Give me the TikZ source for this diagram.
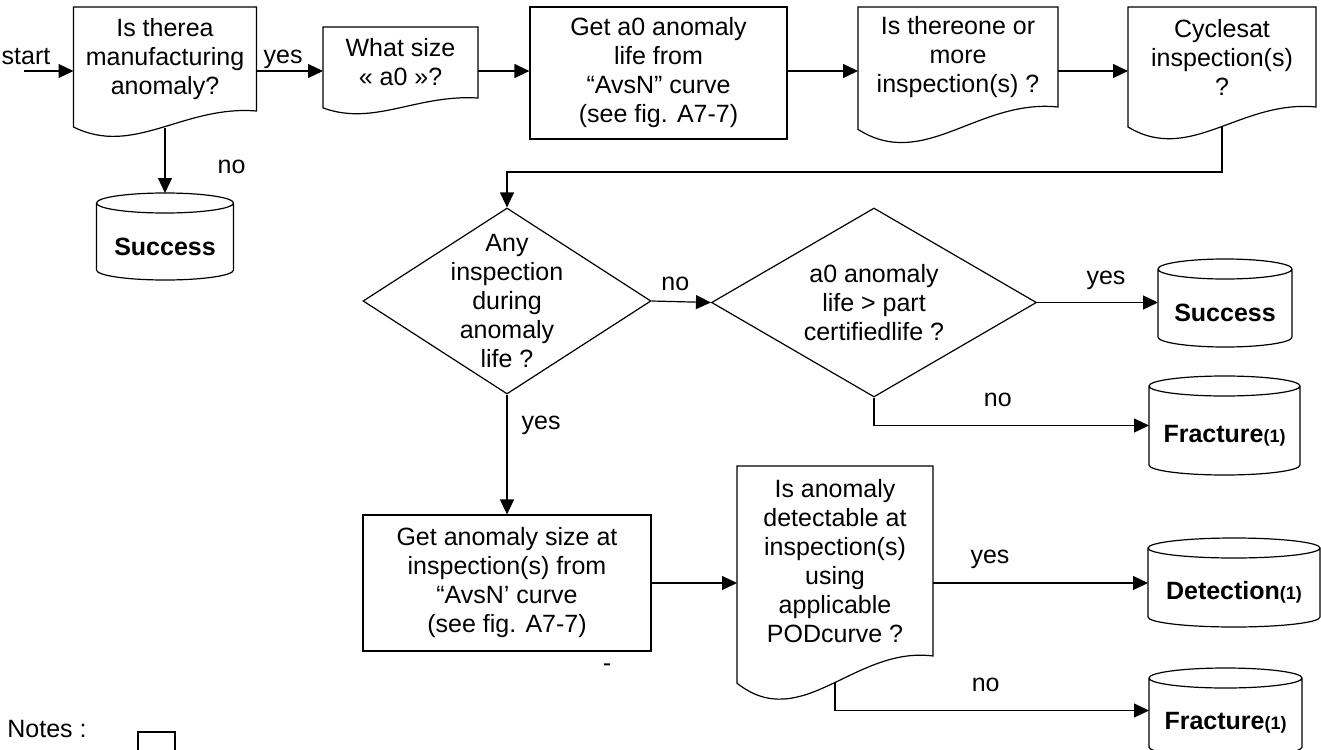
\documentclass[tikz,border=0pt]{standalone}
\usepackage{fontspec}
\setmainfont{Liberation Sans}
\usetikzlibrary{arrows.meta,calc,positioning,shapes.geometric}

% document box outline, #2 scales the wavy bottom
\newcommand{\docout}[2]{%
  \draw[line width=0.6pt] (#1.north west) -- ($(#1.south west)+(0,16*#2)$)
    .. controls ($(#1.south west)!0.33!(#1.south east)+(0,46*#2)$)
    and ($(#1.south west)!0.6!(#1.south east)+(0,-6*#2)$) .. (#1.south east)
    -- (#1.north east) -- cycle;}
% stored data outline round the body of a node
\newcommand{\cylout}[1]{%
  \draw[line width=0.6pt] let \p1=($(#1.east)-(#1.west)$) in
    ([yshift=5pt]#1.north west) -- ([yshift=5pt]#1.south west)
    arc[start angle=180,end angle=360,x radius=0.5*\x1,y radius=5pt]
    -- ([yshift=5pt]#1.north east)
    ([yshift=5pt]#1.north) ellipse[x radius=0.5*\x1,y radius=5pt];
  \coordinate (#1-top) at ([yshift=10pt]#1.north);}

\begin{document}
\begin{tikzpicture}[x=0.5pt,y=-0.5pt,
  every node/.style={font=\fontsize{12.5}{14.5}\selectfont},
  docbox/.style={align=center,inner sep=2pt,outer sep=0pt},
  procbox/.style={draw,line width=0.6pt,align=center,inner sep=2pt},
  decision/.style={diamond,draw,line width=0.6pt,inner sep=0pt},
  store/.style={align=center,inner sep=2pt,outer sep=0pt,
    font=\fontsize{12.5}{14.5}\selectfont\bfseries},
  arr/.style={-{Triangle[length=7.5pt,width=7pt]},line width=0.6pt},
  lbl/.style={inner sep=1pt}]
  \useasboundingbox (0,0) rectangle (1321,749);
  % top row
  \coordinate (st) at (24,71);
  \node[docbox,minimum width=91.5pt,minimum height=52pt] (q1) at (165,59)
    {Is therea\\manufacturing\\anomaly?};
  \node[docbox,minimum width=77.5pt,minimum height=35.5pt] (q2) at (400.5,62.5)
    {What size\\« a0 »?};
  \node[procbox,minimum width=128.5pt,minimum height=66pt] (q3) at (658.5,73)
    {Get a0 anomaly\\life from\\“AvsN” curve\\(see fig. A7-7)};
  \node[docbox,minimum width=100pt,minimum height=50pt] (q4) at (958,57)
    {Is thereone or\\more\\inspection(s) ?};
  \node[docbox,minimum width=94pt,minimum height=50pt] (q5) at (1222,57)
    {Cyclesat\\inspection(s)\\?};
  \docout{q1}{1}
  \docout{q2}{0.62}
  \docout{q4}{1.4}
  \docout{q5}{1.25}
  % decisions
  \node[decision,minimum width=144pt,minimum height=93pt,
    label={[align=center]center:Any\\inspection\\during\\anomaly\\life ?}] (d1) at (507,301) {};
  \node[decision,minimum width=162.5pt,minimum height=94.5pt,
    label={[align=center]center:a0 anomaly\\life > part\\certifiedlife ?}] (d2) at (874,302.5) {};
  % bottom row
  \node[procbox,minimum width=144pt,minimum height=68pt] (r2) at (507,583)
    {Get anomaly size at\\inspection(s) from\\“AvsN’ curve\\(see fig. A7-7)};
  \node[docbox,minimum width=98pt,minimum height=95pt] (q6) at (835,561)
    {Is anomaly\\detectable at\\inspection(s)\\using\\applicable\\PODcurve ?};
  \docout{q6}{1.7}
  % ends
  \node[store,minimum width=68.5pt,minimum height=33.5pt] (s1) at (165,246.5) {Success};
  \node[store,minimum width=67pt,minimum height=34pt] (s2) at (1225,313) {Success};
  \node[store,minimum width=75.5pt,minimum height=39.5pt] (f1) at (1224.5,435.5)
    {Fracture{\fontsize{9}{10}\selectfont(1)}};
  \node[store,minimum width=86pt,minimum height=34.5pt] (dt) at (1234,592.5)
    {Detection{\fontsize{9}{10}\selectfont(1)}};
  \node[store,minimum width=76.5pt,minimum height=34.5pt] (f2) at (1225.5,722.5)
    {Fracture{\fontsize{9}{10}\selectfont(1)}};
  \cylout{s1}
  \cylout{s2}
  \cylout{f1}
  \cylout{dt}
  \cylout{f2}
  % links
  \draw[arr] (st) -- node[lbl,above=2pt,pos=0.04] {start} (q1.west |- st);
  \draw[arr] (q1.east |- st) -- node[lbl,above,pos=0.4] {yes} (q2.west |- st);
  \draw[arr] (q2.east |- st) -- (q3.west |- st);
  \draw[arr] (q3.east |- st) -- (q4.west |- st);
  \draw[arr] (q4.east |- st) -- (q5.west |- st);
  \draw[arr] ([yshift=-8.5pt]q1.south) -- node[lbl,right=25pt,pos=0.6] {no} (s1-top);
  \draw[arr] ([yshift=-9.5pt]q5.south) -- ++(0,46) -| (d1.north);
  \draw[arr] (d1.east) -- node[lbl,above=4pt,pos=0.4] {no} (d2.west);
  \draw[arr] (d2.east) -- node[lbl,above=5pt,pos=0.57] {yes} (d2.east -| s2.west);
  \draw[arr] (d2.south) |- node[lbl,above=8pt,pos=0.725] {no} ([yshift=5pt]f1.west);
  \draw[arr] (d1.south) -- node[lbl,right=6pt,pos=0.26] {yes} (r2.north);
  \draw[arr] (r2.east) -- (r2.east -| q6.west);
  \draw[arr] (q6.east |- r2) -- node[lbl,above=6pt,pos=0.265] {yes} (dt.west |- r2);
  \draw[arr] ([yshift=-13.5pt]q6.south) |- node[lbl,above=8pt,pos=0.74] {no} ([yshift=6pt]f2.west);
  % notes
  \node (dash) at (607,668) {-};
  \node (notes) at (47,729) {Notes :};
  \node[draw,line width=0.6pt,inner sep=0pt,minimum width=18.5pt,minimum height=14pt] (nsq) at (156.5,746) {};
\end{tikzpicture}
\end{document}
